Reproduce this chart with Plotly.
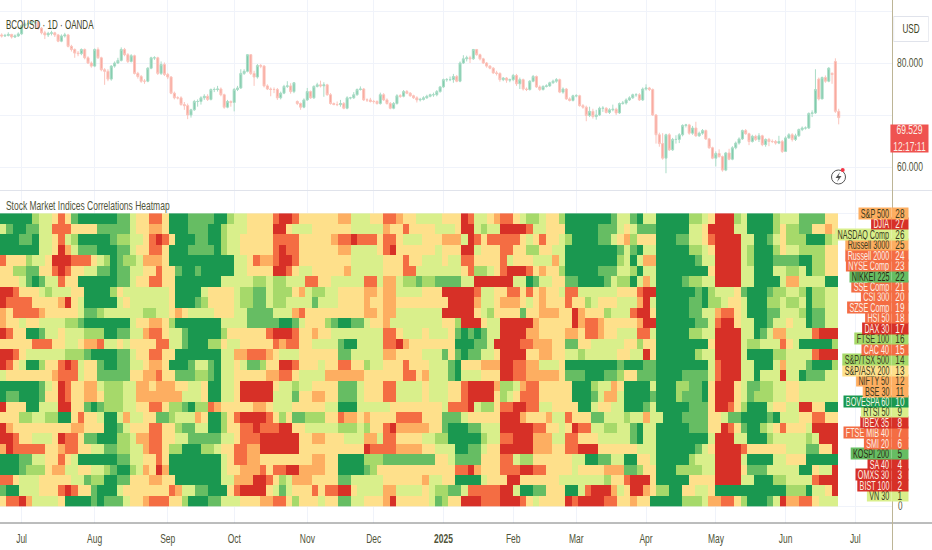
#!/usr/bin/env python3
import plotly.graph_objects as go

W, H = 932, 550

# daily candles
opens = [
    85.4, 85.2, 85.3, 85.5, 85.0, 85.2, 85.6, 87.2, 87.5, 87.6,
    87.8, 87.9, 86.7, 85.8, 85.4, 85.7, 85.8, 85.4, 84.2, 85.2,
    85.4, 83.2, 82.6, 81.9, 81.8, 82.6, 81.0, 80.0, 79.4, 82.6,
    81.0, 78.7, 78.4, 76.9, 79.4, 80.0, 80.5, 82.6, 81.6, 80.3,
    81.4, 78.0, 77.4, 76.5, 76.5, 79.0, 81.0, 81.0, 78.0, 79.7,
    77.8, 77.3, 74.2, 73.3, 73.3, 72.0, 71.8, 70.0, 71.0, 72.6,
    72.6, 73.3, 73.6, 73.0, 74.9, 74.9, 75.0, 73.9, 71.5, 72.6,
    72.4, 74.9, 75.2, 78.0, 78.4, 81.6, 78.0, 77.3, 79.5, 79.4,
    75.6, 75.0, 74.9, 74.9, 73.3, 74.2, 75.5, 75.6, 74.5, 72.6,
    72.2, 71.5, 72.9, 74.5, 73.3, 75.5, 75.8, 75.6, 75.8, 73.9,
    72.2, 72.0, 72.0, 72.2, 71.3, 73.3, 73.3, 73.9, 74.9, 75.0,
    72.9, 72.9, 72.6, 72.6, 72.2, 73.9, 72.9, 72.2, 71.3, 72.2,
    73.7, 73.6, 74.5, 74.2, 73.7, 73.3, 72.9, 73.0, 73.3, 73.6,
    73.9, 73.9, 74.5, 75.4, 76.8, 76.8, 76.8, 77.4, 76.5, 80.0,
    80.8, 81.0, 80.8, 82.6, 81.6, 80.8, 80.0, 79.4, 79.0, 78.1,
    78.0, 76.8, 77.1, 76.7, 76.8, 77.6, 76.0, 76.8, 75.0, 74.9,
    76.5, 77.4, 75.4, 74.9, 75.5, 75.6, 76.2, 76.5, 76.8, 74.4,
    75.0, 73.1, 72.8, 73.7, 73.7, 71.8, 71.5, 69.9, 70.7, 69.7,
    70.0, 71.3, 71.3, 70.5, 71.0, 71.1, 70.4, 72.2, 72.3, 72.9,
    73.3, 73.9, 73.9, 72.9, 75.0, 75.2, 74.9, 70.0, 66.2, 64.5,
    61.7, 66.2, 63.3, 65.3, 65.3, 66.2, 68.0, 68.1, 66.5, 67.5,
    66.0, 66.5, 67.0, 65.4, 63.7, 61.7, 62.6, 62.0, 59.4, 62.7,
    61.5, 63.7, 64.6, 65.4, 67.0, 66.4, 64.9, 65.9, 65.3, 66.0,
    64.3, 65.3, 64.9, 64.9, 64.6, 64.9, 63.0, 65.6, 66.2, 65.3,
    66.0, 67.2, 67.5, 67.5, 70.3, 70.4, 76.9, 73.1, 77.2, 76.5,
    78.0, 80.3, 70.7,
]
highs = [
    85.7, 85.6, 85.9, 85.6, 85.5, 85.9, 87.4, 87.8, 88.0, 88.1,
    88.2, 88.0, 86.9, 86.2, 86.0, 86.2, 86.0, 85.6, 85.5, 85.8,
    85.6, 83.5, 82.8, 82.3, 82.8, 82.8, 81.3, 80.3, 82.8, 83.0,
    81.2, 79.0, 78.8, 79.6, 80.3, 81.0, 83.0, 82.9, 81.9, 81.7,
    81.6, 78.3, 77.7, 76.9, 79.2, 81.2, 81.3, 81.2, 80.3, 80.1,
    78.1, 77.5, 74.5, 73.6, 73.6, 72.5, 72.2, 71.2, 72.9, 73.0,
    73.6, 74.0, 74.0, 75.1, 75.3, 75.6, 75.3, 74.1, 72.9, 72.8,
    75.2, 75.6, 78.8, 78.8, 81.7, 81.7, 78.5, 79.8, 79.8, 79.6,
    75.9, 75.3, 75.3, 75.2, 74.5, 75.8, 76.5, 76.1, 76.3, 72.8,
    72.4, 73.2, 75.2, 74.7, 75.7, 76.2, 76.6, 76.3, 76.0, 74.2,
    72.4, 72.6, 72.9, 72.5, 73.6, 73.5, 74.4, 75.1, 75.5, 75.2,
    73.2, 73.3, 72.9, 72.8, 74.3, 74.2, 73.2, 72.5, 72.5, 74.0,
    74.0, 74.8, 74.8, 74.4, 73.9, 73.6, 73.3, 73.6, 73.9, 74.1,
    74.3, 74.8, 75.6, 77.0, 77.1, 77.4, 77.9, 77.7, 80.3, 81.5,
    81.4, 81.4, 82.7, 82.7, 81.8, 81.0, 80.2, 79.6, 79.2, 78.5,
    78.2, 77.3, 77.3, 77.0, 77.9, 77.9, 77.2, 77.0, 75.3, 76.7,
    77.7, 77.6, 75.7, 75.7, 75.9, 76.4, 76.8, 77.1, 77.0, 75.3,
    75.2, 73.4, 73.9, 74.0, 73.9, 72.1, 71.8, 71.6, 71.2, 71.0,
    71.6, 71.7, 71.5, 71.3, 72.0, 71.4, 72.4, 72.7, 73.2, 73.6,
    74.1, 74.2, 74.2, 75.3, 75.9, 75.4, 75.1, 70.2, 66.6, 66.5,
    66.4, 66.5, 65.6, 66.1, 66.5, 68.2, 68.3, 68.3, 67.9, 68.7,
    66.8, 67.3, 67.2, 65.6, 63.9, 63.0, 63.4, 62.2, 62.9, 63.5,
    64.0, 64.9, 65.7, 67.2, 67.3, 66.6, 66.2, 66.2, 66.5, 66.2,
    65.5, 65.6, 65.3, 65.2, 66.0, 65.2, 65.9, 66.5, 66.5, 66.4,
    67.4, 67.8, 67.8, 70.5, 70.9, 78.8, 77.2, 77.4, 77.6, 79.2,
    78.2, 80.9, 71.2,
]
lows = [
    84.9, 85.0, 85.1, 84.7, 84.8, 85.0, 85.4, 87.0, 87.2, 87.4,
    87.5, 86.4, 85.5, 84.6, 85.0, 85.3, 85.0, 84.0, 84.0, 84.9,
    83.0, 82.2, 81.0, 81.3, 81.5, 80.7, 79.8, 79.1, 79.2, 80.8,
    78.4, 75.8, 76.5, 76.6, 79.1, 79.8, 80.3, 81.3, 80.0, 80.1,
    77.8, 77.0, 76.2, 76.0, 76.3, 78.8, 80.6, 77.7, 77.7, 77.5,
    76.9, 74.0, 73.0, 73.0, 71.8, 71.0, 69.2, 69.5, 70.8, 71.6,
    72.0, 72.9, 72.7, 72.8, 74.4, 74.5, 73.6, 71.2, 71.3, 71.6,
    70.7, 74.6, 75.0, 77.7, 78.2, 77.7, 75.6, 77.0, 79.0, 75.3,
    74.8, 73.6, 74.2, 72.9, 73.0, 74.0, 75.2, 74.1, 74.2, 71.9,
    71.0, 71.3, 72.7, 73.1, 73.1, 75.3, 75.3, 73.5, 73.7, 72.0,
    71.9, 71.7, 71.6, 71.1, 71.1, 73.0, 73.1, 73.7, 74.7, 72.7,
    72.5, 72.4, 72.2, 72.0, 72.0, 72.7, 72.0, 71.1, 71.1, 72.0,
    73.3, 73.4, 74.0, 73.5, 73.1, 72.4, 72.6, 72.8, 73.1, 73.4,
    73.5, 73.6, 74.3, 75.2, 76.4, 76.5, 76.2, 76.3, 76.3, 79.8,
    80.3, 80.0, 80.6, 81.4, 80.5, 79.8, 79.1, 78.8, 77.9, 77.6,
    76.4, 76.5, 76.2, 76.3, 76.5, 75.6, 75.0, 74.7, 74.6, 74.7,
    76.3, 75.2, 74.6, 74.7, 75.3, 75.4, 76.0, 76.2, 74.2, 74.1,
    72.9, 72.6, 72.6, 73.4, 71.6, 71.2, 68.8, 69.6, 69.3, 69.1,
    69.8, 70.6, 70.3, 70.2, 70.7, 70.0, 70.2, 72.0, 72.0, 72.7,
    73.1, 73.5, 72.7, 72.7, 74.7, 74.6, 69.8, 64.5, 63.9, 61.4,
    58.8, 63.1, 63.1, 64.5, 64.6, 65.9, 67.6, 66.2, 66.2, 65.8,
    65.8, 66.2, 65.2, 63.5, 61.5, 60.1, 61.8, 59.1, 59.2, 61.3,
    61.3, 63.4, 64.3, 65.2, 66.2, 64.2, 64.7, 65.0, 64.8, 64.0,
    63.9, 64.0, 64.6, 64.3, 64.4, 62.7, 62.9, 65.4, 64.9, 65.0,
    65.8, 66.9, 67.2, 67.3, 69.6, 70.2, 72.8, 73.0, 76.2, 76.3,
    76.0, 70.4, 68.2,
]
closes = [
    85.2, 85.3, 85.5, 85.0, 85.2, 85.6, 87.2, 87.5, 87.6, 87.8,
    87.9, 86.7, 85.8, 85.4, 85.7, 85.8, 85.4, 84.2, 85.2, 85.4,
    83.2, 82.6, 81.9, 81.8, 82.6, 81.0, 80.0, 79.4, 82.6, 81.0,
    78.7, 78.4, 76.9, 79.4, 80.0, 80.5, 82.6, 81.6, 80.3, 81.4,
    78.0, 77.4, 76.5, 76.5, 79.0, 81.0, 81.0, 78.0, 79.7, 77.8,
    77.3, 74.2, 73.3, 73.3, 72.0, 71.8, 70.0, 71.0, 72.6, 72.6,
    73.3, 73.6, 73.0, 74.9, 74.9, 75.0, 73.9, 71.5, 72.6, 72.4,
    74.9, 75.2, 78.0, 78.4, 81.6, 78.0, 77.3, 79.5, 79.4, 75.6,
    75.0, 74.9, 74.9, 73.3, 74.2, 75.5, 75.6, 74.5, 76.2, 72.2,
    71.5, 72.9, 74.5, 73.3, 75.5, 75.8, 75.6, 75.8, 73.9, 72.2,
    72.0, 72.0, 72.2, 71.3, 73.3, 73.3, 73.9, 74.9, 75.0, 72.9,
    72.9, 72.6, 72.6, 72.2, 73.9, 72.9, 72.2, 71.3, 72.2, 73.7,
    73.6, 74.5, 74.2, 73.7, 73.3, 72.9, 73.0, 73.3, 73.6, 73.9,
    73.9, 74.5, 75.4, 76.8, 76.8, 76.8, 77.4, 76.5, 80.0, 80.8,
    81.0, 80.8, 82.6, 81.6, 80.8, 80.0, 79.4, 79.0, 78.1, 78.0,
    76.8, 77.1, 76.7, 76.8, 77.6, 76.0, 76.8, 75.0, 74.9, 76.5,
    77.4, 75.4, 74.9, 75.5, 75.6, 76.2, 76.5, 76.8, 74.4, 75.0,
    73.1, 72.8, 73.7, 73.7, 71.8, 71.5, 69.9, 70.7, 69.7, 70.0,
    71.3, 71.3, 70.5, 71.0, 71.1, 70.4, 72.2, 72.3, 72.9, 73.3,
    73.9, 73.9, 72.9, 75.0, 75.2, 74.9, 70.0, 66.2, 64.5, 61.7,
    66.2, 63.3, 65.3, 65.3, 66.2, 68.0, 68.1, 66.5, 67.5, 66.0,
    66.5, 67.0, 65.4, 63.7, 61.7, 62.6, 62.0, 59.4, 62.7, 61.5,
    63.7, 64.6, 65.4, 67.0, 66.4, 64.9, 65.9, 65.3, 66.0, 64.3,
    65.3, 64.9, 64.9, 64.6, 64.9, 63.0, 65.6, 66.2, 65.3, 66.0,
    67.2, 67.5, 67.5, 70.3, 70.4, 74.9, 73.1, 77.2, 76.5, 79.0,
    77.8, 70.7, 69.5,
]

# index names, top row of the heatmap first, with the bucket of the last bar
index_names = [
    "S&P 500", "DJIA", "NASDAQ Comp", "Russell 3000", "Russell 2000", "NYSE Comp", "NIKKEI 225",
    "SSE Comp", "CSI 300", "SZSE Comp", "HSI 50", "DAX 30", "FTSE 100", "CAC 40",
    "S&P/TSX 500", "S&P/ASX 200", "NIFTY 50", "BSE 30", "BOVESPA 60", "RTSI 50", "IBEX 35",
    "FTSE MIB 40", "SMI 20", "KOSPI 200", "SA 40", "OMXS 30", "BIST 100", "VN 30",
]
index_levels = [2, 0, 4, 2, 1, 1, 6, 1, 1, 1, 1, 0, 5, 1, 5, 3, 2, 2, 7, 4, 0, 1, 1, 6, 0, 0, 0, 4]

# correlation bucket per pair of bars, 0 = strongly negative ... 7 = strongly positive
heat_rows = [
    "7777754431 3677777766 4331137776 6667754433 3310013333 3322444331 12334 4443330144 3211345543 3577777776 4467447777 7554300054 7777544466 6633",
    "4677664411 1333366666 4332237776 6677544433 3300344433 3333444442 33133 3344430045 4400001443 3377777666 4346667777 7443000044 7777535566 3323",
    "7776674431 4577777655 4431013777 6677544333 3311113333 3211011131 13444 3332224013 1111134313 3457777664 3253337776 6443100004 4776435557 7754",
    "7777774430 2466677766 4331137776 6667544333 3310113333 3322444431 03333 3343330043 3311335533 4477777777 6467447777 7554300004 5777534455 5533",
    "1333544300 0111345765 5422237777 7777774431 2210013333 3333444443 33133 4443441133 3314333444 2477777777 5474227777 7764400004 5777666677 5533",
    "3355663310 1334466766 4433133677 6777774433 3300134433 3332444443 33114 4444443155 4310001323 3577777666 4457447777 7777300004 4777445547 5533",
    "3334676441 3377777766 4331133777 7777444445 5455444113 3444441142 24556 5566664400 0000447644 3366777764 5574247777 6554400004 4777742244 4477",
    "0013334544 4337777534 4444443777 7433334556 6455532455 4433332232 24444 3330000014 4331131323 3411444444 3331007777 7767544436 7776554457 5544",
    "0111133332 0347777743 4444443777 6533334556 6455444464 4433332332 23333 3333000024 4322234323 3313354333 4442047777 7667554334 7775545547 5544",
    "2311112333 3346654444 4455443234 4443334466 6644421333 3333332232 24444 4440000034 5333363322 2330233354 4410037777 7664421134 7776644457 6644",
    "2334334444 5567777777 4332235777 7777444466 6667764333 5677664332 44444 4443350003 4400000233 3330211233 3332007777 7766410034 4776443447 6644",
    "0133776443 4445557766 4421134467 7777533333 3100013323 3444444441 13444 3444367676 4400002233 3322311233 4441147777 7554400004 4764224444 1000",
    "3333311133 4432214434 3333114467 7755344333 3312113344 4467744441 10233 3333377766 4000011222 3366334444 4335337777 7777300004 5544413477 7775",
    "0013444444 5556777766 4331133777 7777442211 1234443333 3366444442 23333 4446367664 4300003322 3344544444 3344037777 7754400004 7777554444 1000",
    "0134775331 0143367766 4432237776 4467443466 5330013334 3311335443 33133 3444673332 2200112244 4377777777 6777667777 7777410004 4777424446 7775",
    "4333333321 1143366666 3322133666 5567443333 3221134444 2222223333 33113 2444674443 3300112222 2366677766 5336667777 6666410004 4744404476 6644",
    "7777776430 1332245554 4223222334 4377443000 0034454433 3366643331 14444 3444331000 0255421133 3337775442 3777747775 5667300034 6655443344 4444",
    "7667776330 1332235554 4222222244 4377443000 0044463322 3366643331 14444 3444331000 0354311133 3337776422 4777767775 6667300034 6555443344 4444",
    "0333774440 0336765554 4331135567 5512333332 2344433333 4477744444 33333 3334111045 5311001144 3333774334 4777647777 7666300135 7774334400 3377",
    "3335544557 7313347742 4433665444 2377531000 0135366555 3312232333 31111 3336664333 3300023332 4413336644 4544244777 6666334667 7776744433 1133",
    "0233333333 3223337764 3331133566 4477533110 1110033444 4455545331 02222 2336777664 4400000113 3430114455 4467447777 7666330136 7754313334 0000",
    "0013344430 1136677755 4221133446 6666443111 0000003322 3334442241 13333 4455777775 4411000222 4411333444 4467447777 7777400044 7775444445 4000",
    "2011111332 1133446655 4421135577 7554331122 0000003333 3333330111 12222 3344477664 3300000222 3311000333 3334447777 7764300001 3333334446 6330",
    "7776644331 3477777766 4433137777 7777431122 3333333322 3377775556 66666 6633466663 3311455333 3334477664 4773347777 7544400004 7777443337 7777",
    "7776555322 4433445677 5423027777 7777433222 1311002222 3377776533 33333 3333311023 3311100113 3334333322 2665337775 5554400003 6664444477 3440",
    "1134443333 3446557766 3332233777 7777442220 0135422233 3366444443 33333 2443377774 3330033333 3444444453 3100037777 7333300004 4777554444 1000",
    "6774443331 0133677743 3333331244 6677731000 0346433313 1100344442 24444 3455664111 1100477663 3377410002 4300235577 3344377777 7777775557 4430",
    "3110244443 7777676664 3321113357 7766444333 2211353334 3366443332 03333 3465330001 1100013433 3301000011 3323377777 5554221135 7776402211 3444",
]

month_bars = [6, 28, 50, 70, 92, 112, 133, 154, 173, 194, 215, 236, 257]
month_labels = ["Jul", "Aug", "Sep", "Oct", "Nov", "Dec", "<b>2025</b>", "Feb", "Mar", "Apr", "May", "Jun", "Jul"]

price_ticks = [60, 70, 80, 90]
price_labels = ["60.000", "", "80.000", ""]

bucket_colors = ["#D73027", "#F46D43", "#FDAE61", "#FEE08B", "#D9EF8B", "#A6D96A", "#66BD63", "#1A9850"]
bucket_text = ["#FBEFE6", "#FBEFE6", "#3A3A1E", "#3A3A1E", "#3A3A1E", "#3A3A1E", "#2A2A12", "#F2F6E6"]

FONT = "Liberation Sans, sans-serif"
TEXT = "#50543A"
GRID = "#F0F3FA"

# the reference text is much narrower than any installed font, so squeeze it sideways after drawing
POST_SCRIPT = """
document.documentElement.style.overflow = 'hidden';
document.body.style.margin = '0';
document.body.style.overflow = 'hidden';
document.body.style.height = '550px';
var gd = document.getElementById('{plot_id}');
function squeeze(el, mode, s) {
    var b = el.getBBox();
    var ax = mode == 'left' ? b.x : (mode == 'right' ? b.x + b.width : b.x + b.width / 2);
    var t = el.getAttribute('transform') || '';
    el.setAttribute('transform', t + ' translate(' + ax + ',0) scale(' + s + ',1) translate(' + (-ax) + ',0)');
}
gd.querySelectorAll('g.annotation').forEach(function (g) {
    var i = +g.getAttribute('data-index');
    var s = i == 0 ? 0.62 : (i >= 4 && (i - 4) % 2 == 0 ? 0.6 : 0.68);
    squeeze(g, gd.layout.annotations[i].xanchor, s);
});
gd.querySelectorAll('.xtick text').forEach(function (el) { squeeze(el, 'center', 0.68); });
gd.querySelectorAll('.ytick text, .y2tick text').forEach(function (el) { squeeze(el, 'left', 0.68); });
"""


def px(x):
    return x / W


def py(y):
    return 1 - y / H


bar_px = 838.7 / 252.5
cell_bars = 838 / 129 / bar_px

colorscale = []
for i, c in enumerate(bucket_colors):
    colorscale.append([i / 8, c])
    colorscale.append([(i + 1) / 8, c])

fig = go.Figure()
fig.add_trace(go.Candlestick(
    x=list(range(len(closes))), open=opens, high=highs, low=lows, close=closes,
    increasing=dict(line=dict(color="#A9DCC6", width=1), fillcolor="#7FCBAB"),
    decreasing=dict(line=dict(color="#FBC4BC", width=1), fillcolor="#F8A79C"),
    whiskerwidth=0, xaxis="x", yaxis="y", showlegend=False,
))
fig.add_trace(go.Heatmap(
    z=[[int(ch) for ch in row.replace(" ", "")] for row in reversed(heat_rows)],
    x0=-0.5 + cell_bars / 2, dx=cell_bars, y0=0.5, dy=1,
    zmin=-0.5, zmax=7.5, colorscale=colorscale, showscale=False,
    xaxis="x", yaxis="y2",
))

annotations = [
    dict(text="BCOUSD · 1D · OANDA", x=px(5), y=py(16), xanchor="left", font=dict(size=13, color="#3F4426")),
    dict(text="Stock Market Indices Correlations Heatmap", x=px(5), y=py(206), xanchor="left",
         font=dict(size=12.5, color="#50543A")),
    dict(text="USD", x=px(929), y=py(16), xanchor="right", width=50, height=24, bordercolor="#E0E3EB", borderwidth=1,
         font=dict(size=12, color="#3F4426")),
    dict(text="69.529<br>12:17:11", x=px(929), y=py(124), xanchor="right", width=55, height=27, bgcolor="#EF5350",
         font=dict(size=12.5, color="#FBEFE6")),
]
# labels drawn from the bottom so the upper boxes overlap the lower ones
for pos in range(1, 29):
    name = index_names[28 - pos]
    level = index_levels[28 - pos]
    annotations.append(dict(
        text="\u00a0" + name + "\u00a0", x=px(892), yref="y2", y=pos, xanchor="right", bgcolor=bucket_colors[level],
        height=11, font=dict(size=12, color=bucket_text[level]),
    ))
    annotations.append(dict(
        text=str(pos), x=px(900), yref="y2", y=pos, xanchor="center", width=24, height=11,
        bgcolor=bucket_colors[level], font=dict(size=12, color=bucket_text[level]),
    ))
for a in annotations:
    a.setdefault("xref", "paper")
    a.setdefault("yref", "paper")
    a.setdefault("showarrow", False)
    a.setdefault("borderpad", 0)

shapes = [
    dict(type="line", x0=0, x1=1, y0=py(190.5), y1=py(190.5), line=dict(color="#E0E3EB", width=1)),
    dict(type="line", x0=0, x1=1, y0=py(523), y1=py(523), line=dict(color="#787B7A", width=1)),
    dict(type="line", x0=px(892.5), x1=px(892.5), y0=0, y1=1, line=dict(color="#BDB596", width=1), layer="above"),
    dict(type="circle", x0=px(831.5), x1=px(845.5), y0=py(184), y1=py(170), line=dict(color="#555555", width=1)),
    dict(type="path", path=f"M {px(840)} {py(172)} L {px(835.5)} {py(178)} L {px(838.5)} {py(178)} "
                           f"L {px(837)} {py(182)} L {px(841.5)} {py(176)} L {px(838.5)} {py(176)} Z",
         fillcolor="#555555", line=dict(width=0)),
    dict(type="circle", x0=px(840.7), x1=px(844.7), y0=py(172), y1=py(168), fillcolor="#F23645", line=dict(width=0)),
]
for s in shapes:
    s.update(xref="paper", yref="paper")

# automargin off: the default template would let the tick labels shrink the plot area
fig.update_layout(
    width=W, height=H, margin=dict(l=0, r=0, t=0, b=0), boxgap=0.12,
    paper_bgcolor="white", plot_bgcolor="white",
    font=dict(family=FONT, size=12, color=TEXT),
    showlegend=False, annotations=annotations, shapes=shapes,
    xaxis=dict(
        domain=[0, 892 / W], range=[-0.5, 892 / bar_px - 0.5], anchor="y2", automargin=False,
        rangeslider=dict(visible=False), tickmode="array", tickvals=month_bars, ticktext=month_labels,
        showgrid=True, gridcolor=GRID, gridwidth=1, zeroline=False, showline=False,
        ticks="", ticklabelstandoff=7, tickfont=dict(size=12.5, color=TEXT),
    ),
    yaxis=dict(
        domain=[py(190.5), 1], range=[80 - 127.5 / 5.2, 80 + 63 / 5.2], side="right", anchor="x", automargin=False,
        tickmode="array", tickvals=price_ticks, ticktext=price_labels,
        showgrid=True, gridcolor=GRID, zeroline=False, showline=False, ticks="",
        ticklabelstandoff=4, tickfont=dict(size=12.5, color=TEXT),
    ),
    yaxis2=dict(
        domain=[py(523), py(190.5)], range=[-17 / 10.46, 28 + 22.9 / 10.46], side="right", anchor="x", automargin=False,
        tickmode="array", tickvals=[0, 28], ticktext=["0", ""],
        showgrid=True, gridcolor=GRID, zeroline=False, showline=False, ticks="",
        ticklabelstandoff=5, tickfont=dict(size=12, color=TEXT),
    ),
)

fig.write_html("out.html", post_script=POST_SCRIPT, config=dict(displayModeBar=False))
